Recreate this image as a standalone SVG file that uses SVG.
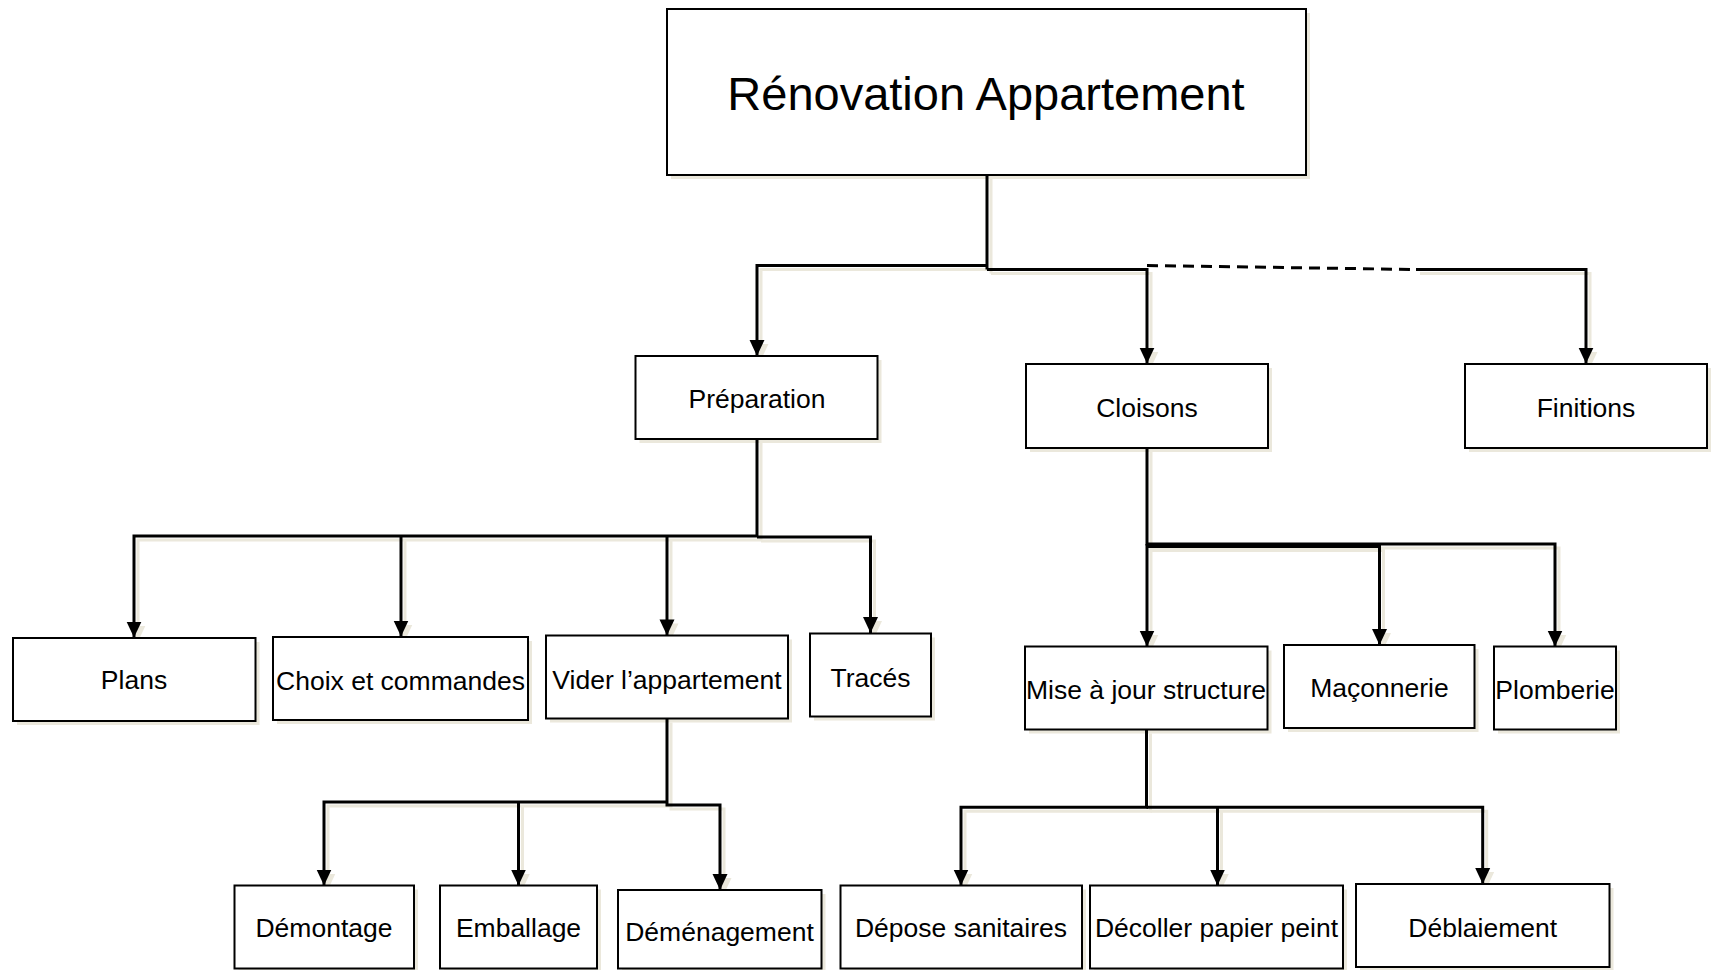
<svg xmlns="http://www.w3.org/2000/svg" width="1712" height="970" viewBox="0 0 1712 970">
<style>
.box{fill:#ffffff;stroke:#000000;stroke-width:2}
.sh{fill:#ebe8dc;stroke:none}
.lbl{font-family:"Liberation Sans",Arial,sans-serif;font-size:26.5px;fill:#000000;text-anchor:middle}
.title{font-family:"Liberation Sans",Arial,sans-serif;font-size:47px;fill:#000000;text-anchor:middle}
.ln{fill:none;stroke:#000000;stroke-width:3;marker-end:url(#arr)}
.lnd{fill:none;stroke:#000000;stroke-width:3;stroke-dasharray:11 7}
.lns{fill:none;stroke:#ebe8dc;stroke-width:3;marker-end:url(#arrs)}
</style>
<defs>
<marker id="arr" markerUnits="userSpaceOnUse" markerWidth="16" markerHeight="16" viewBox="0 0 16 16" refX="16" refY="8" orient="auto">
<path d="M0,0.5 L16,8 L0,15.5 z" fill="#000000"/>
</marker>
<marker id="arrs" markerUnits="userSpaceOnUse" markerWidth="16" markerHeight="16" viewBox="0 0 16 16" refX="16" refY="8" orient="auto">
<path d="M0,0.5 L16,8 L0,15.5 z" fill="#ebe8dc"/>
</marker>
</defs>
<rect width="1712" height="970" fill="#ffffff"/>

<g id="connector-shadows" transform="translate(4,4)">
<path class="lns" d="M987 175 V269.5 M987 265.5 H757 V355.9"/>
<path class="lns" d="M987 269.5 H1147 V363.6"/>
<path class="lns" d="M1416 269.5 H1586 V363.6"/>
<path class="lns" d="M757 438.9 V536 H134 V637.6"/>
<path class="lns" d="M401 536 V636.5"/>
<path class="lns" d="M667 537 V635.4"/>
<path class="lns" d="M757 537 H870.5 V633"/>
<path class="lns" d="M667 718.4 V805 H720 V890"/>
<path class="lns" d="M667 802 H324 V885.5"/>
<path class="lns" d="M518.5 802 V885.5"/>
<path class="lns" d="M1147 447.6 V544 H1555 V646.5"/>
<path class="lns" d="M1147 544 V646.5"/>
<path class="lns" d="M1147 546.5 H1379.5 V645"/>
<path class="lns" d="M1146.5 729.5 V807.3 H961 V885.5"/>
<path class="lns" d="M1146.5 807.3 H1482.7 V884"/>
<path class="lns" d="M1217.5 807.3 V885.5"/>
</g>

<g id="n-root"><rect class="sh" x="671" y="13" width="639" height="166"/><rect class="box" x="667" y="9" width="639" height="166"/><text class="title" x="986" y="110">Rénovation Appartement</text></g>
<g id="n-preparation"><rect class="sh" x="639.5" y="360" width="242" height="83"/><rect class="box" x="635.5" y="356" width="242" height="83"/><text class="lbl" x="757" y="408">Préparation</text></g>
<g id="n-cloisons"><rect class="sh" x="1030" y="368" width="242" height="84"/><rect class="box" x="1026" y="364" width="242" height="84"/><text class="lbl" x="1147" y="416.5">Cloisons</text></g>
<g id="n-finitions"><rect class="sh" x="1469" y="368" width="242" height="84"/><rect class="box" x="1465" y="364" width="242" height="84"/><text class="lbl" x="1586" y="416.5">Finitions</text></g>
<g id="n-plans"><rect class="sh" x="17" y="642" width="242.5" height="83"/><rect class="box" x="13" y="638" width="242.5" height="83"/><text class="lbl" x="134" y="689">Plans</text></g>
<g id="n-choix"><rect class="sh" x="277" y="641" width="255" height="83"/><rect class="box" x="273" y="637" width="255" height="83"/><text class="lbl" x="400.5" y="689.5">Choix et commandes</text></g>
<g id="n-vider"><rect class="sh" x="550" y="639.5" width="242" height="83"/><rect class="box" x="546" y="635.5" width="242" height="83"/><text class="lbl" x="667" y="688.5">Vider l’appartement</text></g>
<g id="n-traces"><rect class="sh" x="814" y="637.5" width="121" height="83"/><rect class="box" x="810" y="633.5" width="121" height="83"/><text class="lbl" x="870.5" y="686.5">Tracés</text></g>
<g id="n-mise"><rect class="sh" x="1029" y="650.5" width="242.5" height="83"/><rect class="box" x="1025" y="646.5" width="242.5" height="83"/><text class="lbl" x="1146" y="698.5">Mise à jour structure</text></g>
<g id="n-maconnerie"><rect class="sh" x="1288" y="649" width="190.5" height="83"/><rect class="box" x="1284" y="645" width="190.5" height="83"/><text class="lbl" x="1379.5" y="697">Maçonnerie</text></g>
<g id="n-plomberie"><rect class="sh" x="1498" y="650.5" width="122" height="83"/><rect class="box" x="1494" y="646.5" width="122" height="83"/><text class="lbl" x="1555" y="698.5">Plomberie</text></g>
<g id="n-demontage"><rect class="sh" x="238.5" y="889.5" width="179.5" height="83"/><rect class="box" x="234.5" y="885.5" width="179.5" height="83"/><text class="lbl" x="324" y="937">Démontage</text></g>
<g id="n-emballage"><rect class="sh" x="444" y="889.5" width="157" height="83"/><rect class="box" x="440" y="885.5" width="157" height="83"/><text class="lbl" x="518.5" y="937">Emballage</text></g>
<g id="n-demenagement"><rect class="sh" x="622" y="894" width="203.5" height="78.5"/><rect class="box" x="618" y="890" width="203.5" height="78.5"/><text class="lbl" x="719.5" y="941">Déménagement</text></g>
<g id="n-depose"><rect class="sh" x="844.5" y="889.5" width="241.5" height="83"/><rect class="box" x="840.5" y="885.5" width="241.5" height="83"/><text class="lbl" x="961" y="937">Dépose sanitaires</text></g>
<g id="n-decoller"><rect class="sh" x="1094" y="889.5" width="253" height="83"/><rect class="box" x="1090" y="885.5" width="253" height="83"/><text class="lbl" x="1216.5" y="937">Décoller papier peint</text></g>
<g id="n-deblaiement"><rect class="sh" x="1360" y="888" width="253.5" height="83"/><rect class="box" x="1356" y="884" width="253.5" height="83"/><text class="lbl" x="1482.7" y="937">Déblaiement</text></g>

<g id="connectors">
<path class="ln" d="M987 175 V269.5 M987 265.5 H757 V355.9"/>
<path class="ln" d="M987 269.5 H1147 V363.6"/>
<path class="lnd" d="M1147 265.5 L1416 269.5"/>
<path class="ln" d="M1416 269.5 H1586 V363.6"/>
<path class="ln" d="M757 438.9 V536 H134 V637.6"/>
<path class="ln" d="M401 536 V636.5"/>
<path class="ln" d="M667 537 V635.4"/>
<path class="ln" d="M757 537 H870.5 V633"/>
<path class="ln" d="M667 718.4 V805 H720 V890"/>
<path class="ln" d="M667 802 H324 V885.5"/>
<path class="ln" d="M518.5 802 V885.5"/>
<path class="ln" d="M1147 447.6 V544 H1555 V646.5"/>
<path class="ln" d="M1147 544 V646.5"/>
<path class="ln" d="M1147 546.5 H1379.5 V645"/>
<path class="ln" d="M1146.5 729.5 V807.3 H961 V885.5"/>
<path class="ln" d="M1146.5 807.3 H1482.7 V884"/>
<path class="ln" d="M1217.5 807.3 V885.5"/>
</g>
</svg>
